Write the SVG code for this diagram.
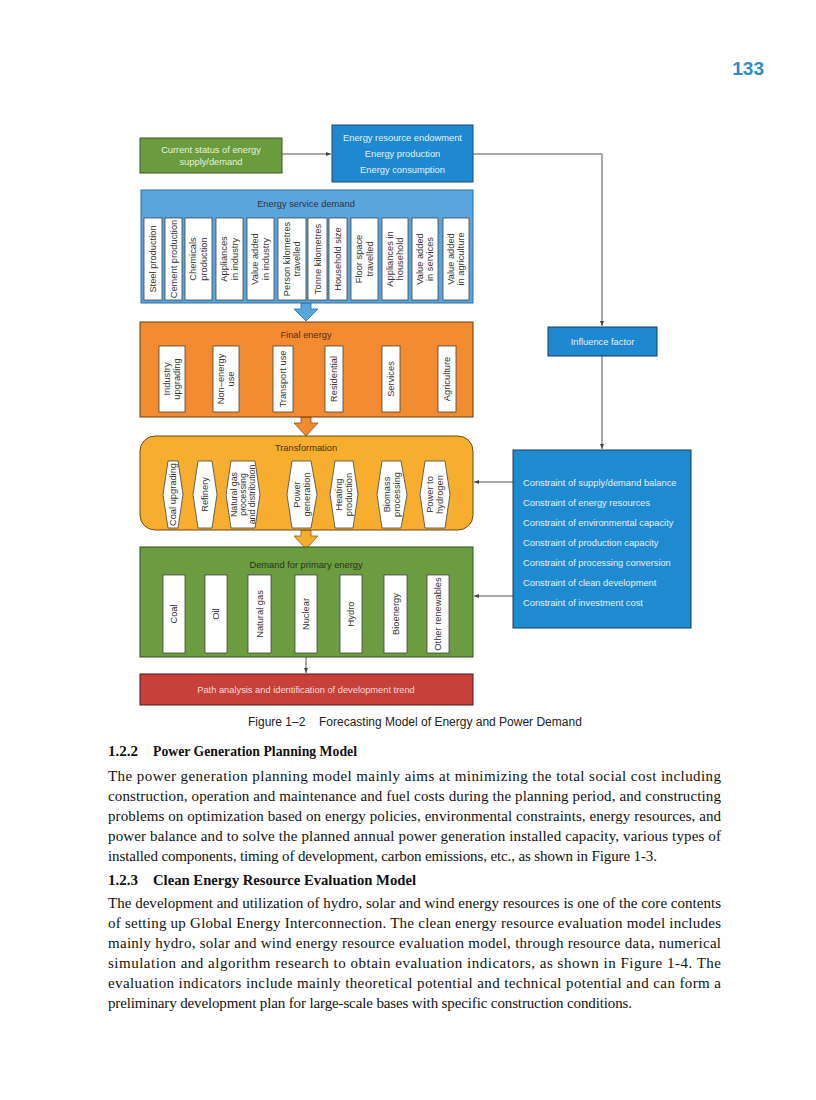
<svg xmlns="http://www.w3.org/2000/svg" width="816" height="1100" viewBox="0 0 816 1100">
<style>
.s{font-family:"Liberation Sans",Arial,sans-serif;font-size:9.3px}
.w{fill:#e4f1fb}
.d{fill:#333}
.in{fill:#fff;stroke:#444;stroke-width:0.8}
.c{stroke:#555;stroke-width:1;fill:none}
.body{font-family:"Liberation Serif","Times New Roman",serif;font-size:15px;fill:#111}
.h{font-family:"Liberation Serif","Times New Roman",serif;font-size:15px;font-weight:bold;fill:#111}
</style>
<defs>
<marker id="ah" markerWidth="6" markerHeight="6" refX="5" refY="3" orient="auto" markerUnits="userSpaceOnUse">
<path d="M0,1 L5,3 L0,5 Z" fill="#444"/>
</marker>
</defs>
<rect width="816" height="1100" fill="#fff"/>
<text x="764" y="75" text-anchor="end" font-family="Liberation Sans,Arial,sans-serif" font-size="19" font-weight="bold" fill="#2e8bcc">133</text>

<g id="connectors">
<line class="c" x1="282" y1="154" x2="331" y2="154" marker-end="url(#ah)"/>
<polyline class="c" points="473,154 602,154 602,326" marker-end="url(#ah)"/>
<line class="c" x1="602" y1="356" x2="602" y2="449" marker-end="url(#ah)"/>
<line class="c" x1="513" y1="482" x2="474" y2="482" marker-end="url(#ah)"/>
<line class="c" x1="513" y1="596" x2="474" y2="596" marker-end="url(#ah)"/>
<line class="c" x1="306" y1="657" x2="306" y2="673" marker-end="url(#ah)"/>
<path d="M301,303 H311 V309 H318 L306,321 L294,309 H301 Z" fill="#5aa6dc" stroke="#2a6ea8" stroke-width="0.8"/>
<path d="M301,417 H311 V423 H318 L306,436 L294,423 H301 Z" fill="#f28a30" stroke="#8a4a1a" stroke-width="0.8"/>
<path d="M301,530 H311 V536 H318 L306,549 L294,536 H301 Z" fill="#f7ae2f" stroke="#8a5a1a" stroke-width="0.8"/>
</g>

<g id="current-status">
<rect x="140" y="138" width="142" height="35" fill="#6a9c3e" stroke="#3a5a22" stroke-width="1"/>
<text class="s" x="211" y="153" text-anchor="middle" fill="#e6f2da">Current status of energy</text>
<text class="s" x="211" y="164.5" text-anchor="middle" fill="#e6f2da">supply/demand</text>
</g>

<g id="energy-resource">
<rect x="332" y="125" width="141" height="57" fill="#1e88d0" stroke="#1a4a72" stroke-width="1"/>
<text class="s w" x="402.5" y="140.5" text-anchor="middle">Energy resource endowment</text>
<text class="s w" x="402.5" y="156.5" text-anchor="middle">Energy production</text>
<text class="s w" x="402.5" y="172.5" text-anchor="middle">Energy consumption</text>
</g>

<g id="influence-factor">
<rect x="548" y="327" width="109" height="29" fill="#1e88d0" stroke="#1a3a5a" stroke-width="1"/>
<text class="s w" x="602.5" y="345" text-anchor="middle">Influence factor</text>
</g>

<g id="constraints">
<rect x="513" y="450" width="178" height="178" fill="#1e8ad0" stroke="#1a3a5a" stroke-width="1"/>
<g class="s w">
<text x="523" y="486">Constraint of supply/demand balance</text>
<text x="523" y="506">Constraint of energy resources</text>
<text x="523" y="526">Constraint of environmental capacity</text>
<text x="523" y="546">Constraint of production capacity</text>
<text x="523" y="566">Constraint of processing conversion</text>
<text x="523" y="586">Constraint of clean development</text>
<text x="523" y="606">Constraint of investment cost</text>
</g>
</g>

<g id="energy-service-demand">
<rect x="141" y="190" width="332" height="113" fill="#5aa6dc" stroke="#2a6ea8" stroke-width="1"/>
<text class="s d" x="306" y="206.5" text-anchor="middle">Energy service demand</text>
<g>
<rect class="in" x="144" y="218" width="18" height="82"/>
<rect class="in" x="165" y="218" width="17" height="82"/>
<rect class="in" x="185" y="218" width="27" height="82"/>
<rect class="in" x="216" y="218" width="27" height="82"/>
<rect class="in" x="247" y="218" width="27" height="82"/>
<rect class="in" x="278" y="218" width="28" height="82"/>
<rect class="in" x="308" y="218" width="19" height="82"/>
<rect class="in" x="329" y="218" width="18" height="82"/>
<rect class="in" x="351" y="218" width="27" height="82"/>
<rect class="in" x="382" y="218" width="26" height="82"/>
<rect class="in" x="412" y="218" width="26" height="82"/>
<rect class="in" x="443" y="218" width="26" height="82"/>
</g>
<g class="s d" text-anchor="middle">
<text transform="translate(153,259) rotate(-90)" y="3.3">Steel production</text>
<text transform="translate(173.5,259) rotate(-90)" y="3.3">Cement production</text>
<text transform="translate(198.5,259) rotate(-90)"><tspan x="0" y="-2.2">Chemicals</tspan><tspan x="0" y="8.3">production</tspan></text>
<text transform="translate(229.5,259) rotate(-90)"><tspan x="0" y="-2.2">Appliances</tspan><tspan x="0" y="8.3">in industry</tspan></text>
<text transform="translate(260.5,259) rotate(-90)"><tspan x="0" y="-2.2">Value added</tspan><tspan x="0" y="8.3">in industry</tspan></text>
<text transform="translate(292,259) rotate(-90)"><tspan x="0" y="-2.2">Person kilometres</tspan><tspan x="0" y="8.3">travelled</tspan></text>
<text transform="translate(317.5,259) rotate(-90)" y="3.3">Tonne kilometres</text>
<text transform="translate(338,259) rotate(-90)" y="3.3">Household size</text>
<text transform="translate(364.5,259) rotate(-90)"><tspan x="0" y="-2.2">Floor space</tspan><tspan x="0" y="8.3">travelled</tspan></text>
<text transform="translate(395,259) rotate(-90)"><tspan x="0" y="-2.2">Appliances in</tspan><tspan x="0" y="8.3">household</tspan></text>
<text transform="translate(425,259) rotate(-90)"><tspan x="0" y="-2.2">Value added</tspan><tspan x="0" y="8.3">in services</tspan></text>
<text transform="translate(456,259) rotate(-90)"><tspan x="0" y="-2.2">Value added</tspan><tspan x="0" y="8.3">in agriculture</tspan></text>
</g>
</g>

<g id="final-energy">
<rect x="140" y="322" width="333" height="95" fill="#f28a30" stroke="#6a3a12" stroke-width="1"/>
<text class="s" x="306" y="337.5" text-anchor="middle" fill="#5a2e0c">Final energy</text>
<rect class="in" x="159" y="346" width="26" height="66"/>
<rect class="in" x="213" y="346" width="26" height="66"/>
<rect class="in" x="273" y="346" width="20" height="66"/>
<rect class="in" x="325" y="346" width="18" height="66"/>
<rect class="in" x="382" y="346" width="18" height="66"/>
<rect class="in" x="438" y="346" width="18" height="66"/>
<g class="s d" text-anchor="middle">
<text transform="translate(172,379) rotate(-90)"><tspan x="0" y="-2.2">Industry</tspan><tspan x="0" y="8.3">upgrading</tspan></text>
<text transform="translate(226,379) rotate(-90)"><tspan x="0" y="-2.2">Non–energy</tspan><tspan x="0" y="8.3">use</tspan></text>
<text transform="translate(283,379) rotate(-90)" y="3.3">Transport use</text>
<text transform="translate(334,379) rotate(-90)" y="3.3">Residential</text>
<text transform="translate(391,379) rotate(-90)" y="3.3">Services</text>
<text transform="translate(447,379) rotate(-90)" y="3.3">Agriculture</text>
</g>
</g>

<g id="transformation">
<rect x="140" y="436" width="333" height="94" rx="15" ry="15" fill="#f7ae2f" stroke="#6a4a12" stroke-width="1"/>
<text class="s" x="306" y="450.5" text-anchor="middle" fill="#4a3208">Transformation</text>
<g fill="#fff" stroke="#444" stroke-width="0.8">
<polygon points="168,461 178,461 183,494.5 178,528 168,528 163,494.5"/>
<polygon points="198,461 212,461 217,494.5 212,528 198,528 193,494.5"/>
<polygon points="231,461 255,461 260,494.5 255,528 231,528 226,494.5"/>
<polygon points="292,461 311,461 317,494.5 311,528 292,528 287,494.5"/>
<polygon points="335,461 353,461 358,494.5 353,528 335,528 330,494.5"/>
<polygon points="382,461 401,461 407,494.5 401,528 382,528 377,494.5"/>
<polygon points="425,461 445,461 450,494.5 445,528 425,528 420,494.5"/>
</g>
<g class="s d" text-anchor="middle">
<text transform="translate(173,494.5) rotate(-90)" y="3.3">Coal upgrading</text>
<text transform="translate(205,494.5) rotate(-90)" y="3.3">Refinery</text>
<text transform="translate(243,494.5) rotate(-90)" font-size="8.8"><tspan x="0" y="-6">Natural gas</tspan><tspan x="0" y="3">processing</tspan><tspan x="0" y="12">and distribution</tspan></text>
<text transform="translate(302,494.5) rotate(-90)"><tspan x="0" y="-2.2">Power</tspan><tspan x="0" y="8.3">generation</tspan></text>
<text transform="translate(344,494.5) rotate(-90)"><tspan x="0" y="-2.2">Heating</tspan><tspan x="0" y="8.3">production</tspan></text>
<text transform="translate(392,494.5) rotate(-90)"><tspan x="0" y="-2.2">Biomass</tspan><tspan x="0" y="8.3">processing</tspan></text>
<text transform="translate(435,494.5) rotate(-90)"><tspan x="0" y="-2.2">Power to</tspan><tspan x="0" y="8.3">hydrogen</tspan></text>
</g>
</g>

<g id="primary-energy">
<rect x="140" y="547" width="333" height="110" fill="#6b9c3f" stroke="#33501e" stroke-width="1"/>
<text class="s" x="306" y="567.5" text-anchor="middle" fill="#22361a">Demand for primary energy</text>
<rect class="in" x="163" y="575" width="22" height="78"/>
<rect class="in" x="205" y="575" width="22" height="78"/>
<rect class="in" x="248" y="575" width="23" height="78"/>
<rect class="in" x="295" y="575" width="22" height="78"/>
<rect class="in" x="340" y="575" width="22" height="78"/>
<rect class="in" x="384" y="575" width="23" height="78"/>
<rect class="in" x="427" y="575" width="22" height="78"/>
<g class="s d" text-anchor="middle">
<text transform="translate(174,614) rotate(-90)" y="3.3">Coal</text>
<text transform="translate(216,614) rotate(-90)" y="3.3">Oil</text>
<text transform="translate(259.5,614) rotate(-90)" y="3.3">Natural gas</text>
<text transform="translate(306,614) rotate(-90)" y="3.3">Nuclear</text>
<text transform="translate(351,614) rotate(-90)" y="3.3">Hydro</text>
<text transform="translate(395.5,614) rotate(-90)" y="3.3">Bioenergy</text>
<text transform="translate(438,614) rotate(-90)" y="3.3">Other renewables</text>
</g>
</g>

<g id="path-analysis">
<rect x="140" y="674" width="333" height="31" fill="#c8403a" stroke="#4a1a16" stroke-width="1"/>
<text class="s" x="306" y="692.5" text-anchor="middle" fill="#f6dcd8">Path analysis and identification of development trend</text>
</g>

<g id="caption" font-family="Liberation Sans,Arial,sans-serif" font-size="12" fill="#222">
<text x="248" y="726">Figure 1–2</text>
<text x="319" y="726">Forecasting Model of Energy and Power Demand</text>
</g>

<g id="text">
<text class="h" x="108" y="756">1.2.2</text>
<text class="h" x="153" y="756" textLength="204" lengthAdjust="spacingAndGlyphs">Power Generation Planning Model</text>
<text class="body" x="108" y="781" textLength="613" lengthAdjust="spacing">The power generation planning model mainly aims at minimizing the total social cost including</text>
<text class="body" x="108" y="801" textLength="613" lengthAdjust="spacing">construction, operation and maintenance and fuel costs during the planning period, and constructing</text>
<text class="body" x="108" y="821" textLength="613" lengthAdjust="spacing">problems on optimization based on energy policies, environmental constraints, energy resources, and</text>
<text class="body" x="108" y="841" textLength="613" lengthAdjust="spacing">power balance and to solve the planned annual power generation installed capacity, various types of</text>
<text class="body" x="108" y="861" textLength="549" lengthAdjust="spacing">installed components, timing of development, carbon emissions, etc., as shown in Figure 1-3.</text>
<text class="h" x="108" y="885">1.2.3</text>
<text class="h" x="153" y="885" textLength="263" lengthAdjust="spacingAndGlyphs">Clean Energy Resource Evaluation Model</text>
<text class="body" x="108" y="908" textLength="613" lengthAdjust="spacing">The development and utilization of hydro, solar and wind energy resources is one of the core contents</text>
<text class="body" x="108" y="928" textLength="613" lengthAdjust="spacing">of setting up Global Energy Interconnection. The clean energy resource evaluation model includes</text>
<text class="body" x="108" y="948" textLength="613" lengthAdjust="spacing">mainly hydro, solar and wind energy resource evaluation model, through resource data, numerical</text>
<text class="body" x="108" y="968" textLength="613" lengthAdjust="spacing">simulation and algorithm research to obtain evaluation indicators, as shown in Figure 1-4. The</text>
<text class="body" x="108" y="988" textLength="613" lengthAdjust="spacing">evaluation indicators include mainly theoretical potential and technical potential and can form a</text>
<text class="body" x="108" y="1008" textLength="524" lengthAdjust="spacing">preliminary development plan for large-scale bases with specific construction conditions.</text>
</g>
</svg>
